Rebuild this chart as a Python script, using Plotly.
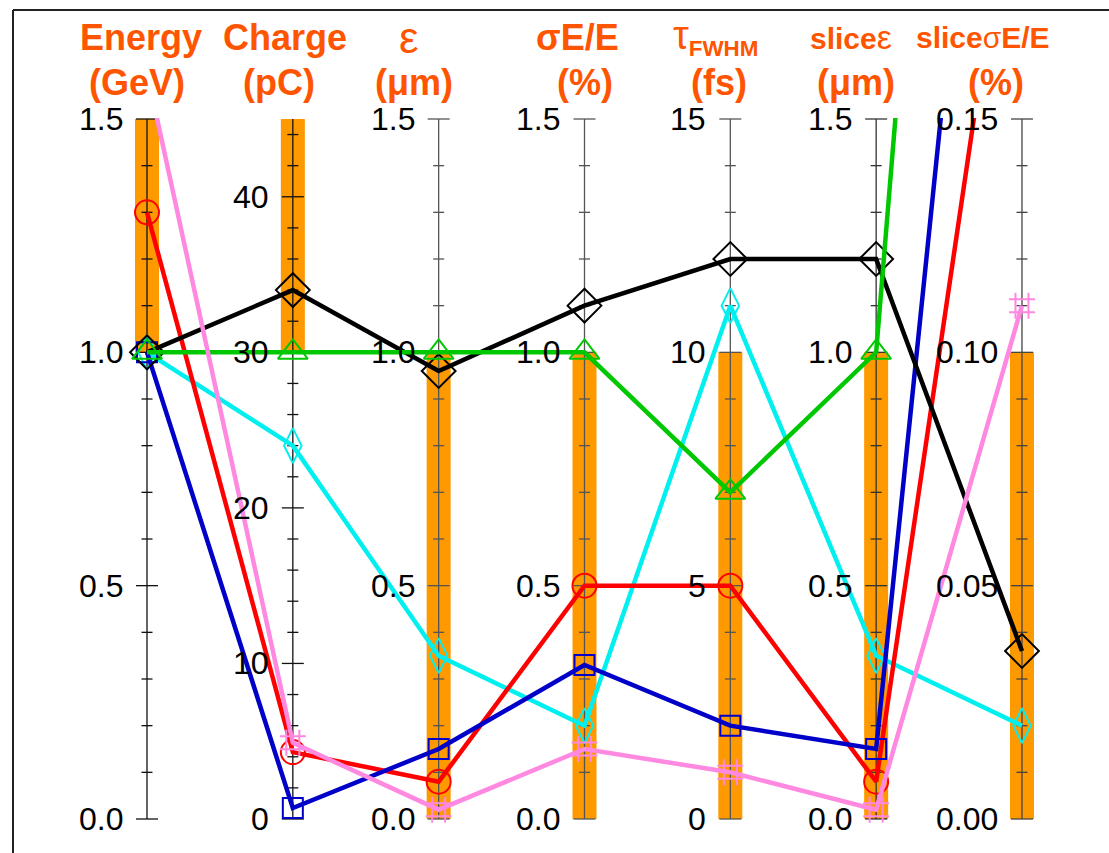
import numpy as np
import plotly.graph_objects as go

# ---------------- data ----------------
axis_names = ["Energy (GeV)", "Charge (pC)", "ε (μm)", "σE/E (%)", "τFWHM (fs)", "sliceε (μm)", "sliceσE/E (%)"]
axis_max = [1.5, 45, 1.5, 1.5, 15, 1.5, 0.15]
axis_minor = [0.1, 2, 0.1, 0.1, 1, 0.1, 0.01]
axis_major = [0.5, 10, 0.5, 0.5, 5, 0.5, 0.05]
axis_ticktop = [1.5, 44, 1.5, 1.5, 15, 1.5, 0.15]
tick_labels = [
    ["0.0", "0.5", "1.0", "1.5"],
    ["0", "10", "20", "30", "40"],
    ["0.0", "0.5", "1.0", "1.5"],
    ["0.0", "0.5", "1.0", "1.5"],
    ["0", "5", "10", "15"],
    ["0.0", "0.5", "1.0", "1.5"],
    ["0.00", "0.05", "0.10", "0.15"],
]
tick_values = [
    [0, 0.5, 1.0, 1.5],
    [0, 10, 20, 30, 40],
    [0, 0.5, 1.0, 1.5],
    [0, 0.5, 1.0, 1.5],
    [0, 5, 10, 15],
    [0, 0.5, 1.0, 1.5],
    [0, 0.05, 0.10, 0.15],
]
# highlighted (orange) range on each axis
band_low = [1.0, 30, 0.0, 0.0, 0, 0.0, 0.0]
band_high = [1.5, 45, 1.0, 1.0, 10, 1.0, 0.10]

cyan_vals = [1.0, 24, 0.35, 0.20, 11.0, 0.35, 0.020]
red_vals = [1.30, 4.3, 0.08, 0.50, 5.0, 0.08, 0.22]
blue_vals = [1.0, 0.7, 0.15, 0.33, 2.0, 0.15, 0.32]
black_vals = [1.0, 34, 0.96, 1.10, 12.0, 1.20, 0.036]
green_vals = [1.0, 30, 1.0, 1.0, 7.0, 1.0, 0.48]
pink_vals = [1.60, 4.9, 0.02, 0.15, 1.0, 0.02, 0.110]

# ---------------- helpers ----------------
n_ax = len(axis_names)
xs = list(range(n_ax))
PX = 145.83  # pixels per axis spacing


def norm(vals):
    return [v / m * 1.5 for v, m in zip(vals, axis_max)]


fig = go.Figure()

ORANGE = "#ff9900"
TITLE_C = "#ff5500"
axis_col = ["#111", "#111", "#555", "#555", "#555", "#333", "#444"]

shapes = []
bw = 12 / PX
for i in xs:
    s = 1.5 / axis_max[i]
    shapes.append(dict(type="rect", xref="x", yref="y", x0=i - bw, x1=i + bw,
                       y0=band_low[i] * s, y1=band_high[i] * s,
                       fillcolor=ORANGE, line=dict(width=0), layer="below"))
for i in xs:
    s = 1.5 / axis_max[i]
    shapes.append(dict(type="line", xref="x", yref="y", x0=i, x1=i, y0=0, y1=1.5,
                       line=dict(color=axis_col[i], width=1.3), layer="below"))
    nt = int(round(axis_ticktop[i] / axis_minor[i]))
    for k in range(nt + 1):
        t = k * axis_minor[i]
        major = abs(t / axis_major[i] - round(t / axis_major[i])) < 1e-6
        hl = (11 if major else 5.5) / PX
        shapes.append(dict(type="line", xref="x", yref="y", x0=i - hl, x1=i + hl,
                           y0=t * s, y1=t * s,
                           line=dict(color=axis_col[i], width=1.3), layer="below"))

# frame (left & top edges)
def py(p):
    return (853 - p) / 735.0

shapes.append(dict(type="line", xref="paper", yref="paper", x0=13 / 1109, x1=13 / 1109,
                   y0=py(10), y1=-0.1, line=dict(color="#222", width=2)))
shapes.append(dict(type="line", xref="paper", yref="paper", x0=13 / 1109, x1=1.05,
                   y0=py(10), y1=py(10), line=dict(color="#222", width=2)))

series = [
    (cyan_vals, "#00f0f0", "diamond-tall-open", 25),
    (red_vals, "#ff0000", "circle-open", 24),
    (blue_vals, "#0000c8", "square-open", 20),
    (black_vals, "#000000", "diamond-open", 26),
    (green_vals, "#00c800", "triangle-up-open", 26),
    (pink_vals, "#ff88e0", "hash-open", 26),
]
for vals, col, sym, sz in series:
    fig.add_trace(go.Scatter(
        x=xs, y=norm(vals), mode="lines+markers",
        line=dict(color=col, width=4.5),
        marker=dict(symbol=sym, size=sz, color=col, line=dict(color=col, width=2)),
        showlegend=False, hoverinfo="skip"))

annotations = []
FONT = "Liberation Sans, Arial, sans-serif"
for i in xs:
    s = 1.5 / axis_max[i]
    for tv, tl in zip(tick_values[i], tick_labels[i]):
        annotations.append(dict(x=i, y=tv * s, xref="x", yref="y", text=tl, showarrow=False,
                                xanchor="right", yanchor="middle", xshift=-22,
                                font=dict(family=FONT, size=32, color="black")))

title1 = ["<b>Energy</b>", "<b>Charge</b>", "<span style='font-size:44px'>ε</span>",
          "<b>σE/E</b>", "<span style='font-size:40px'>τ</span><sub><b>FWHM</b></sub>",
          "<b>slice</b><span style='font-size:34px'>ε</span>", "<b>slice</b>σ<b>E/E</b>"]
title2 = ["<b>(GeV)</b>", "<b>(pC)</b>", "<b>(μm)</b>", "<b>(%)</b>", "<b>(fs)</b>",
          "<b>(μm)</b>", "<b>(%)</b>"]
t1_size = [36, 36, 36, 36, 32, 30, 30]
t1_shift = [-6, -8, -30, -7, -15, -25, -39]
t2_shift = [-10, -14, -25, 1, -11, -20, -26]
t1_y = [37, 37, 37, 37, 37, 37, 37]
for i in xs:
    annotations.append(dict(x=i, y=py(t1_y[i]), xref="x", yref="paper", text=title1[i], showarrow=False,
                            xanchor="center", yanchor="middle", xshift=t1_shift[i],
                            font=dict(family=FONT, size=t1_size[i], color=TITLE_C)))
    annotations.append(dict(x=i, y=py(83), xref="x", yref="paper", text=title2[i], showarrow=False,
                            xanchor="center", yanchor="middle", xshift=t2_shift[i],
                            font=dict(family=FONT, size=36, color=TITLE_C)))

x_lo = -147 / PX
x_hi = (1109 - 147) / PX
y_hi = (819 - 118) / 466.67
y_lo = (819 - 853) / 466.67

fig.update_layout(
    width=1109, height=853,
    margin=dict(l=0, r=0, t=118, b=0, pad=0),
    paper_bgcolor="white", plot_bgcolor="white",
    xaxis=dict(range=[x_lo, x_hi], visible=False, fixedrange=True),
    yaxis=dict(range=[y_lo, y_hi], visible=False, fixedrange=True),
    shapes=shapes, annotations=annotations,
)

fig.write_html("out.html")
